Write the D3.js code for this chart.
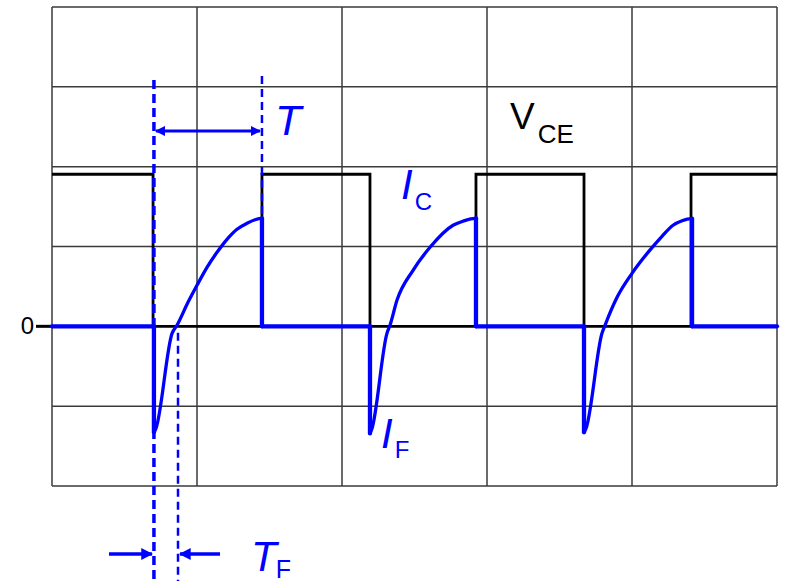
<!DOCTYPE html>
<html>
<head>
<meta charset="utf-8">
<script src="https://cdn.jsdelivr.net/npm/d3@7"></script>
<style>
  html, body { margin: 0; padding: 0; background: #fff; }
  svg { display: block; font-family: "Liberation Sans", Arial, sans-serif; }
</style>
</head>
<body>
<div id="chart"></div>
<script>
// Axis extents in screen divisions (5 across, 6 down, zero at 4th line from top)
const xDomain = [0, 5];
const yDomain = [-2, 4];
const gridX = [0, 1, 2, 3, 4, 5];
const gridY = [-2, -1, 0, 1, 2, 3, 4];
const yTickValues = [0];
const yTickLabels = ['0'];

// V_CE square wave (step after each time)
const vceTime  = [0, 0.697, 1.448, 2.193, 2.924, 3.669, 4.407, 5];
const vceLevel = [1.905, 0, 1.905, 0, 1.905, 0, 1.905, 1.905];

// I_C / I_F current trace
const iTime = [
    0, 0.703, 0.703, 0.717, 0.828, 0.862, 0.938, 1.0, 1.069, 1.138, 1.207, 1.276, 1.345, 1.400, 1.441, 1.448, 1.448,
    2.193, 2.193, 2.207, 2.310, 2.331, 2.379, 2.490, 2.607, 2.766, 2.834, 2.917, 2.924, 2.924,
    3.669, 3.669, 3.683, 3.793, 3.814, 3.897, 4.0, 4.138, 4.207, 4.283, 4.345, 4.407, 4.414, 4.414, 5
];
const iValue = [
    0, 0, -1.328, -1.278, -0.088, 0.013, 0.301, 0.514, 0.739, 0.927, 1.090, 1.216, 1.291, 1.335, 1.353, 1.353, 0,
    0, -1.341, -1.278, -0.088, 0.013, 0.326, 0.702, 0.990, 1.266, 1.316, 1.353, 1.353, 0,
    0, -1.328, -1.278, -0.088, 0.013, 0.363, 0.664, 0.986, 1.128, 1.266, 1.322, 1.350, 1.350, 0, 0
];

// Annotation markers (time positions)
const markFall = 0.703;   // start of reverse recovery
const markCross = 0.869;  // current crosses zero
const markEnd = 1.448;    // end of conduction period T

function drawChart() {
    const width = 786;
    const height = 581;
    const blue = '#0000ff';

    const svg = d3.select('#chart')
        .append('svg')
        .attr('width', width)
        .attr('height', height);

    const defs = svg.append('defs');
    defs.append('marker')
        .attr('id', 'head')
        .attr('viewBox', '0 0 10 10')
        .attr('refX', 9)
        .attr('refY', 5)
        .attr('markerWidth', 3.4)
        .attr('markerHeight', 3.4)
        .attr('markerUnits', 'strokeWidth')
        .attr('orient', 'auto-start-reverse')
        .append('path')
        .attr('d', 'M0,0 L10,5 L0,10 Z')
        .attr('fill', blue);

    const x = d3.scaleLinear().domain(xDomain).range([52, 777]);
    const y = d3.scaleLinear().domain(yDomain).range([486, 7]);

    // Grid
    svg.append('g')
        .selectAll('line')
        .data(gridX)
        .join('line')
        .attr('x1', d => x(d)).attr('x2', d => x(d))
        .attr('y1', y(yDomain[1])).attr('y2', y(yDomain[0]))
        .attr('stroke', '#3a3a3a')
        .attr('stroke-width', 1.5);

    svg.append('g')
        .selectAll('line')
        .data(gridY)
        .join('line')
        .attr('x1', x(xDomain[0])).attr('x2', x(xDomain[1]))
        .attr('y1', d => y(d)).attr('y2', d => y(d))
        .attr('stroke', '#3a3a3a')
        .attr('stroke-width', 1.5);

    // Y tick "0"
    const ticks = svg.append('g');
    ticks.selectAll('line')
        .data(yTickValues)
        .join('line')
        .attr('x1', x(xDomain[0]) - 16).attr('x2', x(xDomain[0]))
        .attr('y1', d => y(d)).attr('y2', d => y(d))
        .attr('stroke', '#000')
        .attr('stroke-width', 3);
    ticks.selectAll('text')
        .data(yTickValues)
        .join('text')
        .attr('x', x(xDomain[0]) - 18)
        .attr('y', d => y(d) + 8)
        .attr('text-anchor', 'end')
        .attr('font-size', 24)
        .text((d, i) => yTickLabels[i]);

    // V_CE trace
    const vceLine = d3.line()
        .x(d => x(d[0]))
        .y(d => y(d[1]))
        .curve(d3.curveStepAfter);
    svg.append('path')
        .attr('d', vceLine(vceTime.map((t, i) => [t, vceLevel[i]])))
        .attr('fill', 'none')
        .attr('stroke', '#000')
        .attr('stroke-width', 2.8);

    // Dashed guide lines
    const guides = svg.append('g')
        .attr('stroke', blue)
        .attr('fill', 'none');
    guides.append('line')
        .attr('x1', x(markFall)).attr('x2', x(markFall))
        .attr('y1', 80).attr('y2', height)
        .attr('stroke-width', 3.5)
        .attr('stroke-dasharray', '9,5');
    guides.append('line')
        .attr('x1', x(markEnd)).attr('x2', x(markEnd))
        .attr('y1', 76).attr('y2', y(0))
        .attr('stroke-width', 2.5)
        .attr('stroke-dasharray', '8,5');
    guides.append('line')
        .attr('x1', x(markCross)).attr('x2', x(markCross))
        .attr('y1', y(-0.08)).attr('y2', height)
        .attr('stroke-width', 2.5)
        .attr('stroke-dasharray', '8,5');

    // Current trace: split into vertical jumps and smooth runs
    const pts = iTime.map((t, i) => [t, iValue[i]]);
    const pieces = [];
    let run = [pts[0]];
    for (let i = 1; i < pts.length; i++) {
        if (pts[i][0] === pts[i - 1][0]) {
            pieces.push(run);
            pieces.push([pts[i - 1], pts[i]]);
            run = [pts[i]];
        } else {
            run.push(pts[i]);
        }
    }
    pieces.push(run);

    const straight = d3.line().x(d => x(d[0])).y(d => y(d[1]));
    const smooth = d3.line().x(d => x(d[0])).y(d => y(d[1])).curve(d3.curveMonotoneX);
    const isStraight = p => p.every(d => d[1] === p[0][1]) || (p.length === 2 && p[0][0] === p[1][0]);

    svg.append('g')
        .selectAll('path')
        .data(pieces.filter(p => p.length > 1))
        .join('path')
        .attr('d', p => isStraight(p) ? straight(p) : smooth(p))
        .attr('fill', 'none')
        .attr('stroke', blue)
        .attr('stroke-width', p => isStraight(p) ? 4.3 : 3.3)
        .attr('stroke-linecap', 'round')
        .attr('stroke-linejoin', 'round');

    // T arrow (double headed)
    svg.append('line')
        .attr('x1', x(markFall) + 2).attr('x2', x(markEnd) - 2)
        .attr('y1', 131).attr('y2', 131)
        .attr('stroke', blue)
        .attr('stroke-width', 3)
        .attr('marker-start', 'url(#head)')
        .attr('marker-end', 'url(#head)');

    // T_F arrows
    svg.append('line')
        .attr('x1', 109).attr('x2', x(markFall) - 2)
        .attr('y1', 554).attr('y2', 554)
        .attr('stroke', blue)
        .attr('stroke-width', 3.5)
        .attr('marker-end', 'url(#head)');
    svg.append('line')
        .attr('x1', 220).attr('x2', x(markCross) + 2)
        .attr('y1', 554).attr('y2', 554)
        .attr('stroke', blue)
        .attr('stroke-width', 3.5)
        .attr('marker-end', 'url(#head)');

    // Labels
    function label(px, py, main, sub, color, italic, mainSize, subSize, subDx, subDy) {
        const t = svg.append('text')
            .attr('x', px)
            .attr('y', py)
            .attr('fill', color);
        t.append('tspan')
            .attr('font-size', mainSize)
            .attr('font-style', italic ? 'italic' : 'normal')
            .text(main);
        if (sub) {
            t.append('tspan')
                .attr('dx', subDx)
                .attr('dy', subDy)
                .attr('font-size', subSize)
                .text(sub);
        }
    }

    label(275, 135, 'T', null, blue, true, 43);
    label(510, 129, 'V', 'CE', '#000', false, 37, 26, 3, 14);
    label(401, 199, 'I', 'C', blue, true, 42, 24, 2, 11);
    label(381, 448, 'I', 'F', blue, true, 42, 24, 2, 10);
    label(251, 571, 'T', 'F', blue, true, 42, 25, -1, 7);
}

document.addEventListener('DOMContentLoaded', drawChart);
</script>
</body>
</html>
